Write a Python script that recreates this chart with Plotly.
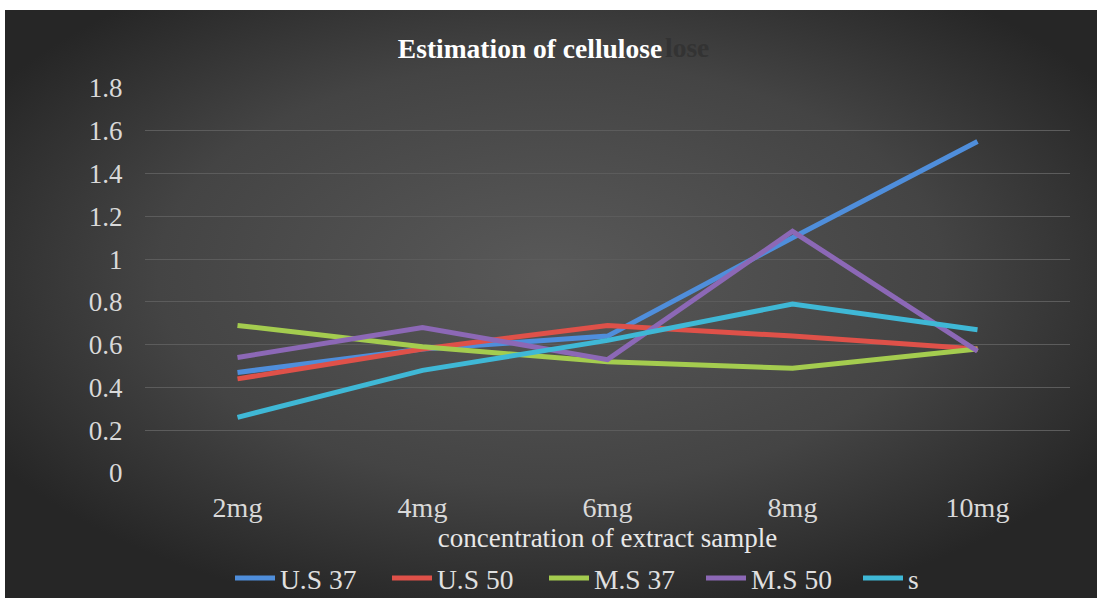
import base64
import plotly.graph_objects as go

categories = ["2mg", "4mg", "6mg", "8mg", "10mg"]
us37 = [0.47, 0.58, 0.64, 1.10, 1.55]
us50 = [0.44, 0.58, 0.69, 0.64, 0.58]
ms37 = [0.69, 0.59, 0.52, 0.49, 0.58]
ms50 = [0.54, 0.68, 0.53, 1.13, 0.57]
s_vals = [0.26, 0.48, 0.62, 0.79, 0.67]

series = [
    ("U.S 37", us37, "#4f8edb"),
    ("U.S 50", us50, "#df5149"),
    ("M.S 37", ms37, "#a4cc4f"),
    ("M.S 50", ms50, "#8c68b6"),
    ("s", s_vals, "#3fb8d6"),
]

W, H = 1097, 598
L, R, T, B = 145, 27, 88, 125
pw, ph = W - L - R, H - T - B
FONT = "Liberation Serif"

def px(x):
    return (x - L) / pw

def py(y):
    return (H - B - y) / ph

svg = """<svg xmlns='http://www.w3.org/2000/svg' width='1092' height='588' preserveAspectRatio='none'>
<defs><radialGradient id='g' cx='50%' cy='45%' r='60%'>
<stop offset='0%' stop-color='#595959'/>
<stop offset='60%' stop-color='#444444'/>
<stop offset='100%' stop-color='#262626'/>
</radialGradient></defs>
<rect width='1092' height='588' fill='url(#g)'/></svg>"""
src = "data:image/svg+xml;base64," + base64.b64encode(svg.encode()).decode()

fig = go.Figure()
for name, vals, col in series:
    fig.add_trace(go.Scatter(x=categories, y=vals, mode="lines", name=name,
                             line=dict(color=col, width=5)))

fig.update_layout(
    width=W, height=H,
    margin=dict(l=L, r=R, t=T, b=B, autoexpand=False),
    paper_bgcolor="white",
    plot_bgcolor="rgba(0,0,0,0)",
    font=dict(family=FONT, size=27, color="#d9d9d9"),
    images=[dict(source=src, xref="paper", yref="paper",
                 x=px(5), y=py(10), sizex=px(W) - px(5), sizey=py(10) - py(H),
                 xanchor="left", yanchor="top", sizing="stretch", layer="below")],
    title=dict(text="<b>Estimation of cellulose</b>", x=530 / W, xanchor="center",
               y=1 - 48 / H, yanchor="middle",
               font=dict(family=FONT, size=27.5, color="white")),
    showlegend=True,
    legend=dict(orientation="h", x=230 / W, xanchor="left", xref="container",
                y=1 - 578 / H, yanchor="middle", yref="container",
                font=dict(family=FONT, size=27.5, color="#e0e0e0"),
                bgcolor="rgba(0,0,0,0)", entrywidth=102, entrywidthmode="pixels",
                itemwidth=40, tracegroupgap=0),
    annotations=[dict(text="<b>lose</b>", xref="paper", yref="paper",
                      x=px(663), y=py(48), xanchor="left", yanchor="middle", showarrow=False,
                      font=dict(family=FONT, size=27.5, color="#333333"))],
)
fig.update_xaxes(range=[-0.5, 4.5], showgrid=False, zeroline=False, showline=False,
                 automargin=False,
                 ticks="outside", ticklen=9, tickcolor="rgba(0,0,0,0)",
                 tickfont=dict(size=28, color="#d9d9d9"),
                 title=dict(text="concentration of extract sample", standoff=21,
                            font=dict(size=27, color="#e8e8e8")))
fig.update_yaxes(range=[0, 1.8], dtick=0.2, showgrid=True, gridcolor="#5c5c5c", gridwidth=1,
                 zeroline=False, showline=False, tickformat="~g", automargin=False,
                 ticks="outside", ticklen=16, tickcolor="rgba(0,0,0,0)",
                 tickfont=dict(size=27, color="#d9d9d9"))

fig.write_html("out.html", config={"displayModeBar": False},
               post_script="document.body.style.margin='0';")
